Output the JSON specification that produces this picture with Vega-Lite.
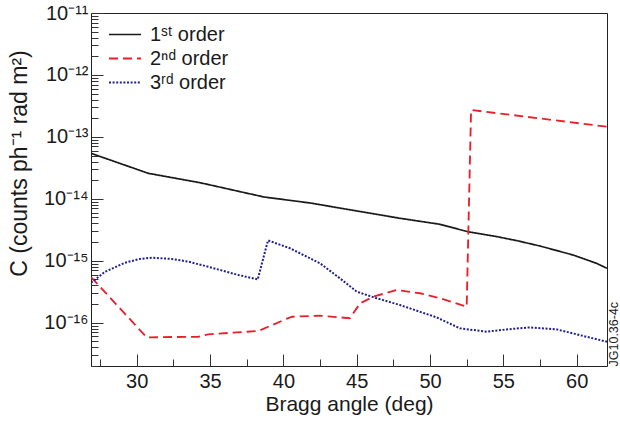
{
  "$schema": "https://vega.github.io/schema/vega-lite/v6.json",
  "width": 516,
  "height": 353,
  "autosize": {"type": "none"},
  "padding": {"left": 91, "top": 13, "right": 13, "bottom": 57},
  "background": "white",
  "config": {
    "view": {"stroke": "#222", "strokeWidth": 1},
    "font": "Liberation Sans",
    "axis": {"titleFont": "Liberation Sans", "labelFont": "Liberation Sans", "titleFontWeight": "normal", "labelColor": "#1a1a1a", "titleColor": "#1a1a1a", "tickColor": "#333", "grid": false, "domain": false}
  },
  "data": {"values": [
    {"order": "1ˢᵗ order", "angle": 26.88, "C": 5.43e-14},
    {"order": "1ˢᵗ order", "angle": 30.79, "C": 2.58e-14},
    {"order": "1ˢᵗ order", "angle": 34.32, "C": 1.82e-14},
    {"order": "1ˢᵗ order", "angle": 38.68, "C": 1.07e-14},
    {"order": "1ˢᵗ order", "angle": 41.82, "C": 8.57e-15},
    {"order": "1ˢᵗ order", "angle": 45.23, "C": 6.24e-15},
    {"order": "1ˢᵗ order", "angle": 47.95, "C": 4.85e-15},
    {"order": "1ˢᵗ order", "angle": 50.68, "C": 3.88e-15},
    {"order": "1ˢᵗ order", "angle": 52.59, "C": 2.94e-15},
    {"order": "1ˢᵗ order", "angle": 54.57, "C": 2.45e-15},
    {"order": "1ˢᵗ order", "angle": 55.93, "C": 2.11e-15},
    {"order": "1ˢᵗ order", "angle": 57.5, "C": 1.73e-15},
    {"order": "1ˢᵗ order", "angle": 59.75, "C": 1.24e-15},
    {"order": "1ˢᵗ order", "angle": 61.35, "C": 9.1e-16},
    {"order": "1ˢᵗ order", "angle": 62.07, "C": 7.55e-16},
    {"order": "2ⁿᵈ order", "angle": 26.9, "C": 5.4e-16},
    {"order": "2ⁿᵈ order", "angle": 30.68, "C": 5.8e-17},
    {"order": "2ⁿᵈ order", "angle": 34.2, "C": 5.94e-17},
    {"order": "2ⁿᵈ order", "angle": 34.88, "C": 6.5e-17},
    {"order": "2ⁿᵈ order", "angle": 38.29, "C": 7.35e-17},
    {"order": "2ⁿᵈ order", "angle": 40.2, "C": 1.15e-16},
    {"order": "2ⁿᵈ order", "angle": 40.6, "C": 1.25e-16},
    {"order": "2ⁿᵈ order", "angle": 42.5, "C": 1.3e-16},
    {"order": "2ⁿᵈ order", "angle": 44.54, "C": 1.18e-16},
    {"order": "2ⁿᵈ order", "angle": 45.23, "C": 2.06e-16},
    {"order": "2ⁿᵈ order", "angle": 46.13, "C": 2.63e-16},
    {"order": "2ⁿᵈ order", "angle": 47.73, "C": 3.37e-16},
    {"order": "2ⁿᵈ order", "angle": 49.32, "C": 2.99e-16},
    {"order": "2ⁿᵈ order", "angle": 50.68, "C": 2.48e-16},
    {"order": "2ⁿᵈ order", "angle": 52.5, "C": 1.81e-16},
    {"order": "2ⁿᵈ order", "angle": 52.8, "C": 2.72e-13},
    {"order": "2ⁿᵈ order", "angle": 62.07, "C": 1.46e-13},
    {"order": "3ʳᵈ order", "angle": 26.89, "C": 4.43e-16},
    {"order": "3ʳᵈ order", "angle": 27.84, "C": 6.65e-16},
    {"order": "3ʳᵈ order", "angle": 29.2, "C": 9.3e-16},
    {"order": "3ʳᵈ order", "angle": 30.2, "C": 1.07e-15},
    {"order": "3ʳᵈ order", "angle": 31.02, "C": 1.12e-15},
    {"order": "3ʳᵈ order", "angle": 32.39, "C": 1.07e-15},
    {"order": "3ʳᵈ order", "angle": 33.5, "C": 9.7e-16},
    {"order": "3ʳᵈ order", "angle": 34.88, "C": 8.0e-16},
    {"order": "3ʳᵈ order", "angle": 36.93, "C": 5.89e-16},
    {"order": "3ʳᵈ order", "angle": 38.25, "C": 5.0e-16},
    {"order": "3ʳᵈ order", "angle": 38.95, "C": 2.13e-15},
    {"order": "3ʳᵈ order", "angle": 40.45, "C": 1.59e-15},
    {"order": "3ʳᵈ order", "angle": 42.5, "C": 9.1e-16},
    {"order": "3ʳᵈ order", "angle": 43.86, "C": 5.2e-16},
    {"order": "3ʳᵈ order", "angle": 45.0, "C": 3.17e-16},
    {"order": "3ʳᵈ order", "angle": 46.36, "C": 2.48e-16},
    {"order": "3ʳᵈ order", "angle": 47.95, "C": 1.93e-16},
    {"order": "3ʳᵈ order", "angle": 50.45, "C": 1.22e-16},
    {"order": "3ʳᵈ order", "angle": 52.04, "C": 8.1e-17},
    {"order": "3ʳᵈ order", "angle": 53.86, "C": 7.16e-17},
    {"order": "3ʳᵈ order", "angle": 55.23, "C": 7.8e-17},
    {"order": "3ʳᵈ order", "angle": 56.82, "C": 8.4e-17},
    {"order": "3ʳᵈ order", "angle": 58.64, "C": 7.8e-17},
    {"order": "3ʳᵈ order", "angle": 60.22, "C": 6.3e-17},
    {"order": "3ʳᵈ order", "angle": 62.07, "C": 4.93e-17}
  ]},
  "layer": [
    {
      "mark": {"type": "line", "clip": true},
      "encoding": {
        "x": {"field": "angle", "type": "quantitative",
          "scale": {"domain": [26.88, 62.07], "nice": false, "zero": false},
          "axis": {"title": "Bragg angle (deg)", "titleFontSize": 21, "labelFontSize": 20,
            "values": [30, 35, 40, 45, 50, 55, 60], "format": "d",
            "tickSize": -12, "labelPadding": 17, "titlePadding": 2, "labelOverlap": false, "labelFlush": false}},
        "y": {"field": "C", "type": "quantitative",
          "scale": {"type": "log", "domain": [2e-17, 1e-11], "nice": false},
          "axis": {"title": "C (counts ph⁻¹ rad m²)", "titleFontSize": 23, "labelFontSize": 20, "titleY": 150,
            "values": [2e-17, 3e-17, 4e-17, 5e-17, 6e-17, 7e-17, 8e-17, 9e-17,
              1e-16, 2e-16, 3e-16, 4e-16, 5e-16, 6e-16, 7e-16, 8e-16, 9e-16,
              1e-15, 2e-15, 3e-15, 4e-15, 5e-15, 6e-15, 7e-15, 8e-15, 9e-15,
              1e-14, 2e-14, 3e-14, 4e-14, 5e-14, 6e-14, 7e-14, 8e-14, 9e-14,
              1e-13, 2e-13, 3e-13, 4e-13, 5e-13, 6e-13, 7e-13, 8e-13, 9e-13,
              1e-12, 2e-12, 3e-12, 4e-12, 5e-12, 6e-12, 7e-12, 8e-12, 9e-12, 1e-11],
            "labelExpr": "abs(log(datum.value)/LN10 - round(log(datum.value)/LN10)) < 0.001 ? '10⁻¹' + ['¹','²','³','⁴','⁵','⁶','⁷'][-round(log(datum.value)/LN10) - 11] : ''",
            "tickSize": {"condition": {"test": "abs(log(datum.value)/LN10 - round(log(datum.value)/LN10)) < 0.001", "value": -12}, "value": -7},
            "labelPadding": 15, "titlePadding": 12, "labelOverlap": false, "labelFlush": false}},
        "color": {"field": "order", "type": "nominal",
          "scale": {"domain": ["1ˢᵗ order", "2ⁿᵈ order", "3ʳᵈ order"], "range": ["#1a1a1a", "#e8202a", "#20208f"]},
          "legend": {"title": null, "orient": "none", "legendX": 17, "legendY": 9.5, "symbolType": "stroke", "symbolSize": 1024, "symbolStrokeWidth": 2, "labelFontSize": 20, "labelOffset": 8, "rowPadding": 0, "clipHeight": 24, "labelColor": "#1a1a1a"}},
        "strokeDash": {"field": "order", "type": "nominal",
          "scale": {"domain": ["1ˢᵗ order", "2ⁿᵈ order", "3ʳᵈ order"], "range": [[1, 0], [9, 5], [2, 1.6]]},
          "legend": {"title": null, "orient": "none", "legendX": 17, "legendY": 9.5, "symbolType": "stroke", "symbolSize": 1024, "symbolStrokeWidth": 2, "labelFontSize": 20, "labelOffset": 8, "rowPadding": 0, "clipHeight": 24, "labelColor": "#1a1a1a"}},
        "strokeWidth": {"field": "order", "type": "nominal",
          "scale": {"domain": ["1ˢᵗ order", "2ⁿᵈ order", "3ʳᵈ order"], "range": [1.7, 2, 2.6]},
          "legend": null}
      }
    },
    {
      "mark": {"type": "line", "opacity": 0},
      "encoding": {
        "x": {"field": "angle", "type": "quantitative",
          "axis": {"orient": "bottom", "values": [27.5, 32.5, 37.5, 42.5, 47.5, 52.5, 57.5], "tickSize": -7, "labels": false, "title": null}},
        "y": {"field": "C", "type": "quantitative",
          "axis": {"orient": "right", "title": "JG10.36-4c", "labels": false, "ticks": false, "domain": false,
            "titleFontSize": 12.5, "titleAngle": 270, "titleAnchor": "start", "titlePadding": 0, "titleBaseline": "top"}},
        "detail": {"field": "order"}
      }
    }
  ],
  "resolve": {"axis": {"y": "independent", "x": "independent"}}
}
